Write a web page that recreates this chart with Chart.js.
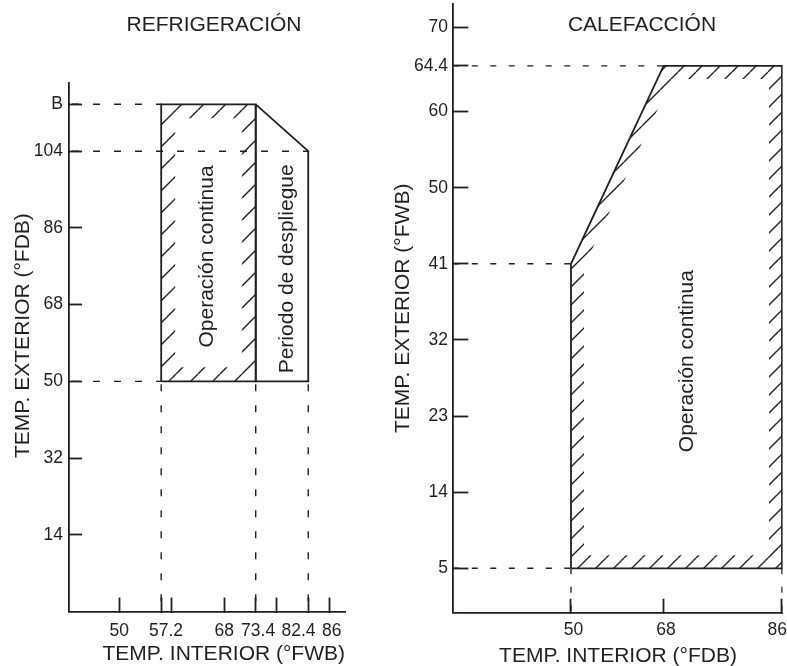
<!DOCTYPE html>
<html>
<head>
<meta charset="utf-8">
<script src="https://cdn.jsdelivr.net/npm/chart.js@4.4.1/dist/chart.umd.min.js"></script>
<style>
  html, body { margin: 0; padding: 0; background: #fff; }
  #wrap { position: relative; width: 787px; height: 666px; overflow: hidden;
          font-family: "Liberation Sans", Arial, Helvetica, sans-serif; color: #231f20; }
  canvas { position: absolute; top: 0; }
  #coolChart { left: 0; }
  #heatChart { left: 390px; }
  .titulo { position: absolute; top: 11px; font-size: 21px; line-height: 25px;
            white-space: nowrap; transform: translateX(-50%); }
</style>
</head>
<body>
<div id="wrap">
  <canvas id="coolChart" width="380" height="666"></canvas>
  <canvas id="heatChart" width="397" height="666"></canvas>
  <div class="titulo" style="left:214px">REFRIGERACIÓN</div>
  <div class="titulo" style="left:642px">CALEFACCIÓN</div>
</div>
<script>
// --- DATOS: REFRIGERACIÓN ---
const coolXRange = [41.4, 88.7];
const coolYRange = [-4, 120];
const coolXTicks = [50, 57.2, 59, 68, 73.4, 77, 82.4, 86];
// los espacios reproducen el corrimiento de las etiquetas del original
const coolXLabels = ['50', '  57.2', '', '68', ' 73.4', '', '82.4    ', ' 86'];
const coolYTicks = [14, 32, 50, 68, 86, 104, 115];
const coolYLabels = ['14', '32', '50', '68', '86', '104', 'B'];
// zona rayada (operación continua)
const coolContX = [57.2, 57.2, 73.4, 73.4, 57.2];
const coolContY = [50, 115, 115, 50, 50];
// zona periodo de despliegue
const coolPullX = [73.4, 82.4, 82.4, 73.4, 73.4];
const coolPullY = [115, 104, 50, 50, 115];
// líneas punteadas
const coolDashH = [115, 104, 50];
const coolDashHTo = [57.2, 82.4, 57.2];
const coolDashV = [57.2, 73.4, 82.4];
const coolDashVFrom = 50;
// textos dentro de las zonas
const coolZoneText = ['Operación continua', 'Periodo de despliegue'];
const coolZoneX = [65.1, 78.8];
const coolZoneY = [79.3, 76.4];

// --- DATOS: CALEFACCIÓN ---
const heatXRange = [29.92, 86.12];
const heatYRange = [-0.25, 71.72];
const heatXTicks = [50, 65.8, 86];
const heatXLabels = [' 50', ' 68', '86  '];
const heatYTicks = [5, 14, 23, 32, 41, 50, 59, 64.4, 69];
const heatYLabels = ['5', '14', '23', '32', '41', '50', '60', '64.4', '70'];
const heatContX = [50, 50, 65.8, 86, 86, 50];
const heatContY = [5, 41, 64.4, 64.4, 5, 5];
const heatDashH = [64.4, 41, 5];
const heatDashHTo = [65.8, 50, 50];
const heatDashV = [50, 86];
const heatDashVFrom = 5;
const heatZoneText = ['Operación continua'];
const heatZoneX = [69.8];
const heatZoneY = [29.5];

const INK = '#231f20';
const FONT = '"Liberation Sans", Arial, Helvetica, sans-serif';
Chart.defaults.font.family = FONT;
Chart.defaults.color = INK;

// patrón de rayas diagonales "/"
function makeHatch(ctx, step, lw) {
    const c = document.createElement('canvas');
    c.width = step; c.height = step;
    const g = c.getContext('2d');
    g.strokeStyle = INK;
    g.lineWidth = lw;
    g.beginPath();
    for (let k = -1; k <= 1; k++) {
        g.moveTo(k * step, step);
        g.lineTo(k * step + step, 0);
    }
    g.stroke();
    return ctx.createPattern(c, 'repeat');
}

// rayado por dentro del borde de la zona
const hatchPlugin = {
    id: 'hatch',
    afterDatasetsDraw(chart, args, opts) {
        const ctx = chart.ctx;
        chart.data.datasets.forEach((ds, i) => {
            if (!ds.hatch) return;
            const pts = chart.getDatasetMeta(i).data;
            ctx.save();
            ctx.beginPath();
            pts.forEach((p, k) => k ? ctx.lineTo(p.x, p.y) : ctx.moveTo(p.x, p.y));
            ctx.closePath();
            ctx.clip();
            ctx.lineWidth = opts.band * 2;
            ctx.lineJoin = 'miter';
            ctx.strokeStyle = makeHatch(ctx, opts.step, opts.width);
            ctx.stroke();
            ctx.restore();
        });
    }
};

// textos verticales dentro de las zonas
const zoneTextPlugin = {
    id: 'zoneText',
    afterDatasetsDraw(chart, args, opts) {
        const ctx = chart.ctx;
        const sx = chart.scales.x, sy = chart.scales.y;
        opts.text.forEach((t, i) => {
            ctx.save();
            ctx.translate(sx.getPixelForValue(opts.x[i]), sy.getPixelForValue(opts.y[i]));
            ctx.rotate(-Math.PI / 2);
            ctx.font = '21px ' + FONT;
            ctx.fillStyle = INK;
            ctx.textAlign = 'center';
            ctx.textBaseline = 'middle';
            ctx.fillText(t, 0, 0);
            ctx.restore();
        });
    }
};

function pts(xs, ys) {
    return xs.map((x, i) => ({ x: x, y: ys[i] }));
}

function outline(xs, ys, hatch) {
    return { data: pts(xs, ys), showLine: true, fill: false, tension: 0,
             borderColor: INK, borderWidth: 1.8, pointRadius: 0, hatch: hatch };
}

function guides(xRange, yRange, hY, hTo, vX, vFrom, dash, offset) {
    const lines = [];
    hY.forEach((y, i) => lines.push([{ x: xRange[0], y: y }, { x: hTo[i], y: y }]));
    vX.forEach(x => lines.push([{ x: x, y: vFrom }, { x: x, y: yRange[0] }]));
    return lines.map(l => ({ data: l, showLine: true, borderColor: INK, borderWidth: 1.4,
                             borderDash: dash, borderDashOffset: offset, pointRadius: 0 }));
}

function makeScale(o) {
    return {
        type: 'linear',
        position: o.pos,
        min: o.range[0],
        max: o.range[1],
        afterBuildTicks: s => { s.ticks = o.ticks.map(v => ({ value: v })); },
        afterFit: s => {
            if (o.pos === 'bottom') s.height = o.size; else s.width = o.size;
            // el área del gráfico la fija layout.padding
            s.paddingTop = s.paddingBottom = s.paddingLeft = s.paddingRight = 0;
        },
        ticks: { autoSkip: false, maxRotation: 0, padding: o.pad, color: INK,
                 font: { size: 17.5, family: FONT }, callback: (v, i) => o.labels[i] },
        grid: { drawOnChartArea: false, drawTicks: true, tickLength: -o.tick,
                tickWidth: 1.8, tickColor: INK },
        border: { display: true, color: INK, width: 1.8 },
        title: { display: true, text: o.title, color: INK, align: o.align || 'center',
                 font: { size: 21, family: FONT, lineHeight: 1 }, padding: o.titlePad }
    };
}

function baseOptions(padding, scales, hatch, zone) {
    return {
        responsive: false,
        animation: false,
        events: [],
        layout: { padding: padding },
        plugins: { legend: { display: false }, tooltip: { enabled: false },
                   hatch: hatch, zoneText: zone },
        scales: scales
    };
}

// --- GRÁFICO REFRIGERACIÓN ---
new Chart(document.getElementById('coolChart'), {
    type: 'scatter',
    data: {
        datasets: [
            ...guides(coolXRange, coolYRange, coolDashH, coolDashHTo, coolDashV, coolDashVFrom, [7, 14], -3),
            outline(coolContX, coolContY, true),
            outline(coolPullX, coolPullY, false)
        ]
    },
    options: baseOptions(
        { left: 0, right: 35, top: 83, bottom: 0 },
        {
            x: makeScale({ pos: 'bottom', range: coolXRange, ticks: coolXTicks, labels: coolXLabels,
                           tick: 14, pad: 23, size: 54.5, title: 'TEMP. INTERIOR (°FWB)',
                           titlePad: { top: 0, bottom: 1 }, align: 'end' }),
            y: makeScale({ pos: 'left', range: coolYRange, ticks: coolYTicks, labels: coolYLabels,
                           tick: 13, pad: 19, size: 69, title: '    TEMP. EXTERIOR (°FDB)',
                           titlePad: { top: 13, bottom: 0 } })
        },
        { band: 14, step: 22, width: 1.4 },
        { text: coolZoneText, x: coolZoneX, y: coolZoneY }
    ),
    plugins: [hatchPlugin, zoneTextPlugin]
});

// --- GRÁFICO CALEFACCIÓN ---
new Chart(document.getElementById('heatChart'), {
    type: 'scatter',
    data: {
        datasets: [
            ...guides(heatXRange, heatYRange, heatDashH, heatDashHTo, heatDashV, heatDashVFrom, [6, 12.5], 0),
            outline(heatContX, heatContY, true)
        ]
    },
    options: baseOptions(
        { left: 0, right: 4.3, top: 4, bottom: 0 },
        {
            x: makeScale({ pos: 'bottom', range: heatXRange, ticks: heatXTicks, labels: heatXLabels,
                           tick: 14, pad: 20.8, size: 53.3, title: 'TEMP. INTERIOR (°FDB)',
                           titlePad: { top: 0, bottom: -1 } }),
            y: makeScale({ pos: 'left', range: heatYRange, ticks: heatYTicks, labels: heatYLabels,
                           tick: 15, pad: 20.3, size: 63.3, title: 'TEMP. EXTERIOR (°FWB)',
                           titlePad: { top: 3, bottom: 0 } })
        },
        { band: 13, step: 18, width: 1.4 },
        { text: heatZoneText, x: heatZoneX, y: heatZoneY }
    ),
    plugins: [hatchPlugin, zoneTextPlugin]
});
</script>
</body>
</html>
